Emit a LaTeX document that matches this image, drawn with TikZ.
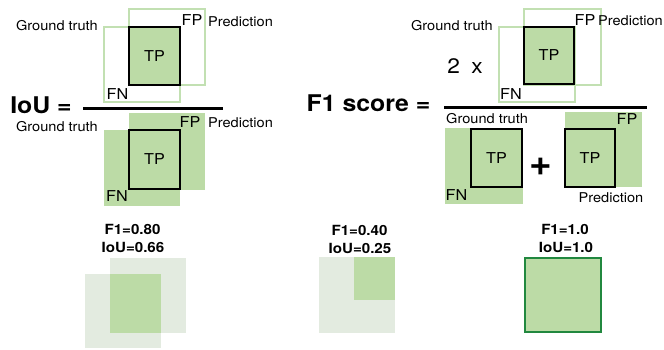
\documentclass[tikz,border=0pt]{standalone}
\usepackage{fontspec}
\setmainfont[FakeStretch=1.08]{TeX Gyre Heros}
\definecolor{boxgreen}{HTML}{BCDBA6}
\definecolor{edgegreen}{HTML}{C2E0B2}
\definecolor{palegreen}{HTML}{E3EBE0}
\definecolor{darkgreen}{HTML}{21883F}
\tikzset{
  box/.style={rectangle, inner sep=0pt, outer sep=0pt, minimum width=#1},
  outlinebox/.style={box=76pt, draw=edgegreen, line width=1.6pt},
  fillbox/.style={box=76pt, fill=boxgreen},
  tpbox/.style={box=51pt, draw=black, fill=boxgreen, line width=2pt},
  palebox/.style={box=76pt, fill=palegreen},
  lbl/.style={inner sep=0pt, font=\fontsize{13.5}{14}\selectfont},
  cell/.style={inner sep=0pt, font=\fontsize{15}{16}\selectfont},
  big/.style={inner sep=0pt, font=\fontsize{23}{25}\selectfont\bfseries},
  score/.style={inner sep=0pt, font=\fontsize{14}{15}\selectfont\bfseries},
  fracline/.style={line width=3pt}
}
\begin{document}
\begin{tikzpicture}[x=1pt,y=-1pt]
\useasboundingbox (0,0) rectangle (664,349);

% ---- IoU: intersection over union ----
\node[outlinebox, minimum height=75pt] (iougt) at (142,64.5) {};
\node[outlinebox, minimum height=76pt] (ioupr) at (167,47) {};
\node[tpbox, minimum height=58pt] (iouitp) at (154.5,56) {};
\node[cell] at (iouitp) {TP};
\node[lbl, anchor=east] (iougtl) at (98,25.5) {Ground truth};
\node[cell] (ioufp) at (192,20) {FP};
\node[lbl, anchor=west] (ioupl) at (208,21.5) {Prediction};
\node[cell] (ioufn) at (117.5,94.5) {FN};

\node[big] (ioueq) at (41,105.5) {IoU =};
\coordinate (ioul) at (83,108.5);
\coordinate (iour) at (223,108.5);
\draw[fracline] (ioul) -- (iour);

\node[fillbox, minimum height=76pt] (iouugt) at (141.5,168) {};
\node[fillbox, minimum height=77pt] (iouupr) at (166.5,151.5) {};
\node[tpbox, minimum height=59pt] (iouutp) at (154.5,159.5) {};
\node[cell] at (iouutp) {TP};
\node[lbl, anchor=east] (iouugtl) at (98,126.5) {Ground truth};
\node[cell] (iouufp) at (190,122.5) {FP};
\node[lbl, anchor=west] (iouupl) at (208,122.5) {Prediction};
\node[cell] (iouufn) at (117,196.5) {FN};

% ---- F1 score ----
\node[outlinebox, minimum height=75pt] (fgt) at (537,64.5) {};
\node[outlinebox, minimum height=76pt, minimum width=77pt] (fpr) at (562.5,47) {};
\node[tpbox, minimum height=57pt, minimum width=50pt] (ftp) at (549,55.5) {};
\node[cell] at (ftp) {TP};
\node[lbl, anchor=east] (fgtl) at (493,26) {Ground truth};
\node[cell] (ffp) at (585,20.5) {FP};
\node[lbl, anchor=east] (fpl) at (663,21) {Prediction};
\node[cell] (ffn) at (511,94) {FN};
\node[inner sep=0pt, font=\fontsize{21}{22}\selectfont] (two) at (465,66) {2\hskip0.55em x};

\node[big] (feq) at (368.5,103) {F1 score =};
\coordinate (fl) at (444,107);
\coordinate (fr) at (647,107);
\draw[fracline] (fl) -- (fr);

\node[fillbox, minimum height=76pt, minimum width=78pt] (fdgt) at (484,166) {};
\node[tpbox, minimum height=58pt] (fdtp1) at (496.5,158) {};
\node[cell] at (fdtp1) {TP};
\node[lbl, anchor=west] (fdgtl) at (446,118.5) {Ground truth};
\node[cell] (fdfn) at (456.5,195.5) {FN};
\node[inner sep=0pt, font=\fontsize{36}{38}\selectfont\bfseries] (plus) at (541,166.5) {+};

\node[fillbox, minimum height=75pt, minimum width=77pt] (fdpr) at (603.5,149.5) {};
\node[tpbox, minimum height=58pt, minimum width=50pt] (fdtp2) at (590,158) {};
\node[cell] at (fdtp2) {TP};
\node[cell] (fdfp) at (627,119) {FP};
\node[lbl] (fdpl) at (611,198) {Prediction};

% ---- examples ----
\node[score] (s1a) at (132.5,229) {F1=0.80};
\node[score] (s1b) at (133,247) {IoU=0.66};
\node[palebox, minimum height=74pt] (e1gt) at (123,311) {};
\node[palebox, minimum height=75pt] (e1pr) at (148,295.5) {};
\node[box=51pt, minimum height=59pt, fill=boxgreen] (e1tp) at (135.5,303.5) {};

\node[score] (s2a) at (359.5,230) {F1=0.40};
\node[score] (s2b) at (360,248) {IoU=0.25};
\node[palebox, minimum height=76pt] (e2gt) at (357,295) {};
\node[box=41pt, minimum height=43pt, fill=boxgreen] (e2tp) at (374.5,278.5) {};

\node[score] (s3a) at (565,229) {F1=1.0};
\node[score] (s3b) at (566,247) {IoU=1.0};
\node[box=76pt, minimum height=74pt, fill=boxgreen, draw=darkgreen, line width=2pt] (e3) at (563,295) {};
\end{tikzpicture}
\end{document}
